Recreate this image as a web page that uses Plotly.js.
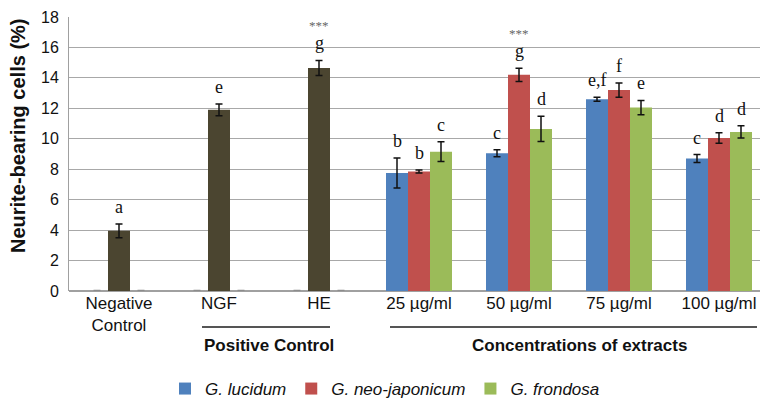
<!DOCTYPE html>
<html>
<head>
<meta charset="utf-8">
<script src="https://cdn.plot.ly/plotly-3.0.1.min.js"></script>
<style>html,body{margin:0;padding:0;background:#fff;}#chart{width:760px;height:409px;}</style>
</head>
<body>
<div id="chart"></div>
<script>
// ---- data ----
const categories = ['Negative<br>Control', 'NGF', 'HE', '25 µg/ml', '50 µg/ml', '75 µg/ml', '100 µg/ml'];
const controlCats = ['Negative<br>Control', 'NGF', 'HE'];
const extractCats = ['25 µg/ml', '50 µg/ml', '75 µg/ml', '100 µg/ml'];

const controlValues = [3.95, 11.9, 14.65];
const controlErr = [0.45, 0.38, 0.5];
const controlLetters = ['a', 'e', 'g'];
const controlZero = [0, 0, 0];

const lucidum = [7.75, 9.05, 12.6, 8.7];
const lucidumErr = [0.98, 0.23, 0.13, 0.26];
const lucidumLetters = ['b', 'c', 'e,f', 'c'];

const neoJaponicum = [7.85, 14.2, 13.2, 10.05];
const neoJaponicumErr = [0.1, 0.43, 0.47, 0.34];
const neoJaponicumLetters = ['b', 'g', 'f', 'd'];

const frondosa = [9.15, 10.65, 12.05, 10.45];
const frondosaErr = [0.65, 0.83, 0.47, 0.4];
const frondosaLetters = ['c', 'd', 'e', 'd'];

const starred = [['HE', 'mid'], ['50 µg/ml', 'mid']];

const seriesNames = ['G. lucidum', 'G. neo-japonicum', 'G. frondosa'];
const groupLabels = ['Positive Control', 'Concentrations of extracts'];
const yTicks = [0, 2, 4, 6, 8, 10, 12, 14, 16, 18];

// ---- style ----
const BLUE = '#4f81bd', RED = '#c0504d', GREEN = '#9bbb59', DARK = '#4b4530';
const errStyle = {type: 'data', visible: true, color: '#111', thickness: 1.5, width: 3.5};
const zeroErr = arr => ({type: 'data', array: arr, visible: true, color: '#8c8c8c', thickness: 2.5, width: 3.5});

const traces = [
  {type: 'bar', x: controlCats, y: controlZero, offsetgroup: 'a', marker: {color: BLUE},
   error_y: zeroErr(controlZero), showlegend: false, hoverinfo: 'skip'},
  {type: 'bar', x: extractCats, y: lucidum, offsetgroup: 'a', name: seriesNames[0], marker: {color: BLUE},
   error_y: Object.assign({array: lucidumErr}, errStyle)},
  {type: 'bar', x: controlCats, y: controlValues, offsetgroup: 'b', marker: {color: DARK},
   error_y: Object.assign({array: controlErr}, errStyle), showlegend: false},
  {type: 'bar', x: extractCats, y: neoJaponicum, offsetgroup: 'b', name: seriesNames[1], marker: {color: RED},
   error_y: Object.assign({array: neoJaponicumErr}, errStyle)},
  {type: 'bar', x: controlCats, y: controlZero, offsetgroup: 'c', marker: {color: GREEN},
   error_y: zeroErr(controlZero), showlegend: false, hoverinfo: 'skip'},
  {type: 'bar', x: extractCats, y: frondosa, offsetgroup: 'c', name: seriesNames[2], marker: {color: GREEN},
   error_y: Object.assign({array: frondosaErr}, errStyle)}
];

// ---- geometry used for label placement ----
const W = 760, H = 409;
const margin = {l: 69, r: 0, t: 17, b: 118};
const plotH = H - margin.t - margin.b;
const xRange = [-0.5, 6.41];
const bargap = 0.34;
const pxPerCat = (W - margin.l - margin.r) / (xRange[1] - xRange[0]);
const slotPx = pxPerCat * (1 - bargap) / 3;
const slotShift = {left: -slotPx, mid: 0, right: slotPx};
const paperY = py => (H - margin.b - py) / plotH;   // pixel row -> paper fraction

const letterFont = {family: 'Liberation Serif, Times New Roman, serif', size: 18, color: '#111'};
const annotations = [];
function addLetters(cats, vals, errs, letters, slot) {
  cats.forEach((c, i) => {
    annotations.push({x: c, y: vals[i] + errs[i], xref: 'x', yref: 'y', text: letters[i],
      showarrow: false, xanchor: 'center', yanchor: 'bottom', xshift: slotShift[slot], yshift: 5,
      font: letterFont});
  });
}
addLetters(controlCats, controlValues, controlErr, controlLetters, 'mid');
addLetters(extractCats, lucidum, lucidumErr, lucidumLetters, 'left');
addLetters(extractCats, neoJaponicum, neoJaponicumErr, neoJaponicumLetters, 'mid');
addLetters(extractCats, frondosa, frondosaErr, frondosaLetters, 'right');

function lookup(cat) {
  const ci = controlCats.indexOf(cat);
  if (ci >= 0) return controlValues[ci] + controlErr[ci];
  const ei = extractCats.indexOf(cat);
  return neoJaponicum[ei] + neoJaponicumErr[ei];
}
starred.forEach(([c, slot]) => {
  annotations.push({x: c, y: lookup(c), xref: 'x', yref: 'y', text: '***', showarrow: false,
    xanchor: 'center', yanchor: 'bottom', xshift: slotShift[slot], yshift: 25,
    font: {family: 'Liberation Serif, serif', size: 13, color: '#666'}});
});

// y-axis title
annotations.push({xref: 'paper', yref: 'paper', x: (18 - margin.l) / (W - margin.l), y: paperY(136),
  text: '<b>Neurite-bearing cells (%)</b>', textangle: -90, showarrow: false, xanchor: 'center', yanchor: 'middle',
  font: {family: 'Liberation Sans, Arial, sans-serif', size: 20, color: '#111'}});

// group labels
const groupFont = {family: 'Liberation Sans, Arial, sans-serif', size: 17, color: '#111'};
annotations.push({xref: 'x', yref: 'paper', x: 1.5, y: paperY(345), text: '<b>' + groupLabels[0] + '</b>',
  showarrow: false, xanchor: 'center', yanchor: 'middle', font: groupFont});
annotations.push({xref: 'x', yref: 'paper', x: 4.6, y: paperY(345), text: '<b>' + groupLabels[1] + '</b>',
  showarrow: false, xanchor: 'center', yanchor: 'middle', font: groupFont});

const lineY = paperY(327);
const shapes = [
  {type: 'line', xref: 'x', yref: 'paper', x0: 0.83, x1: 2.11, y0: lineY, y1: lineY, line: {color: '#555', width: 2}},
  {type: 'line', xref: 'x', yref: 'paper', x0: 2.71, x1: 6.38, y0: lineY, y1: lineY, line: {color: '#555', width: 2}}
];

const layout = {
  width: W, height: H,
  margin: margin,
  paper_bgcolor: '#fff', plot_bgcolor: '#fff',
  barmode: 'group', bargap: bargap, bargroupgap: 0,
  font: {family: 'Liberation Sans, Arial, sans-serif', size: 16, color: '#111'},
  xaxis: {type: 'category', categoryorder: 'array', categoryarray: categories, range: xRange,
    showgrid: false, zeroline: false, showline: false, ticks: '',
    tickfont: {size: 17, color: '#111'}, fixedrange: true},
  yaxis: {range: [0, 18], tickvals: yTicks, showgrid: true, gridcolor: '#a8a8a8', gridwidth: 1,
    zeroline: true, zerolinecolor: '#a0a0a0', zerolinewidth: 1.5,
    showline: true, linecolor: '#a0a0a0', linewidth: 1, ticks: '', ticklabelstandoff: 6,
    tickfont: {size: 16, color: '#111'}, fixedrange: true},
  legend: {orientation: 'h', x: (385 - margin.l) / (W - margin.l), xanchor: 'center',
    y: paperY(389), yanchor: 'middle', font: {size: 17, style: 'italic', color: '#111'},
    itemwidth: 30, traceorder: 'normal'},
  annotations: annotations,
  shapes: shapes
};

Plotly.newPlot('chart', traces, layout, {displayModeBar: false, staticPlot: true});
</script>
</body>
</html>
